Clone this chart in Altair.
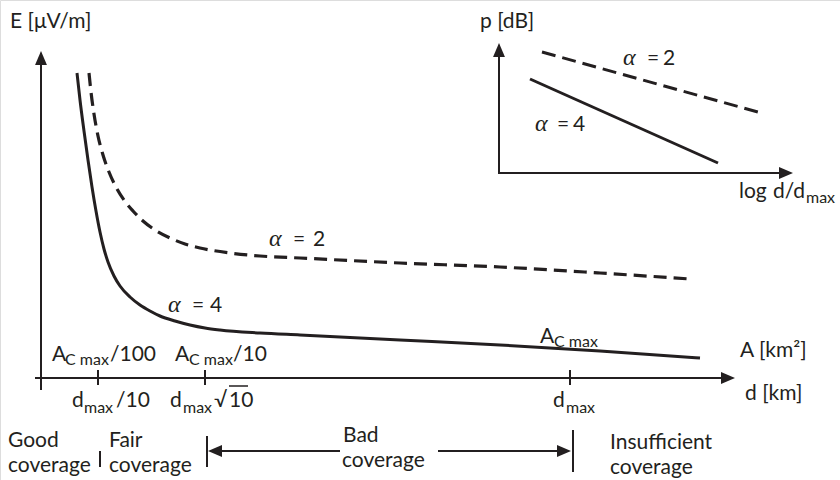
import altair as alt
import pandas as pd

INK = "#231f20"
SANS = "Lato"
SERIF = "Liberation Serif"

# Field strength E versus distance, drawn in page units (x to the right, y downward)
a4_x = [77, 80, 84, 88, 92, 96, 100, 104, 108, 114, 120, 130, 140, 150, 160, 175, 190, 205,
        220, 260, 300, 400, 500, 600, 700]
a4_y = [73, 100, 131, 160, 187, 211, 232, 249, 262, 276, 286, 297, 305, 311, 316, 321, 325, 328,
        330, 333, 335, 340, 345, 351, 358]
a2_x = [89, 91, 94, 98, 103, 109, 116, 124, 133, 143, 155, 170, 185, 200, 230, 260, 300, 400,
        500, 600, 690]
a2_y = [73, 92, 114, 136, 155, 172, 187, 200, 211, 221, 230, 238, 244, 248, 253, 256, 258, 263,
        267, 273, 279]

# Inset: p [dB] against log d/dmax (straight lines)
inset_a2_x = [542, 758]
inset_a2_y = [52, 112]
inset_a4_x = [530, 718]
inset_a4_y = [79, 163]

# Axis lines, ticks, coverage separators and arrow shafts: x, x2, y, y2, width
seg_x = [41, 35, 98, 205, 570, 499, 498, 100, 207, 573, 212, 438, 229]
seg_x2 = [41, 729, 98, 205, 570, 499, 787, 100, 207, 573, 340, 566, 248]
seg_y = [56, 378, 370, 370, 370, 48, 173, 451, 436, 430, 451, 451, 386]
seg_y2 = [390, 378, 385, 385, 385, 174, 173, 467, 467, 472, 451, 451, 386]
seg_w = [2, 2, 2, 2, 2, 2, 2, 2, 2, 2, 2, 2, 1.5]

# Arrow heads
UP = "M0,-1L0.85,1L-0.85,1Z"
RIGHT = "M1,0L-1,0.85L-1,-0.85Z"
LEFT = "M-1,0L1,0.85L1,-0.85Z"
head_x = [41, 728, 499, 786, 215, 564]
head_y = [58, 378, 50, 173, 451, 451]
head_shape = [UP, RIGHT, UP, RIGHT, LEFT, RIGHT]

# Regular labels (baseline positions)
main_text = ["E [μV/m]", "p [dB]", "A", "/100", "A", "/10", "d", "/10", "d", "√", "10",
             "d", "A", "A [km²]", "d [km]", "log", "d/d",
             "Good", "coverage", "Fair", "coverage", "Bad", "coverage",
             "Insufficient", "coverage",
             "=", "2", "=", "4", "=", "2", "=", "4"]
main_x = [10, 480, 52, 110, 175, 233, 72, 116, 170, 214, 229,
          553, 540, 740, 745, 739, 773,
          8, 8, 109, 109, 343, 342,
          610, 610,
          293, 313, 192, 210, 647, 663, 557, 573]
main_y = [28, 28, 361, 361, 361, 361, 407, 407, 407, 407, 407,
          407, 343, 357, 400, 198, 198,
          447, 472, 447, 472, 442, 467,
          449, 474,
          246, 246, 312, 312, 65, 65, 131, 131]

# Subscripts
sub_text = ["C max", "C max", "max", "max", "max", "C max", "max"]
sub_x = [65, 189, 84, 183, 566, 554, 806]
sub_y = [365, 365, 413, 413, 413, 347, 203]

# Path-loss exponent symbols
alpha_x = [269, 168, 623, 535]
alpha_y = [246, 312, 65, 131]

X = alt.Scale(domain=[0, 840], nice=False, zero=False)
Y = alt.Scale(domain=[0, 480], reverse=True, nice=False, zero=False)


def curve(xs, ys, name):
    return pd.DataFrame({"x": xs, "y": ys, "i": range(len(xs)), "series": name})


curves_solid = pd.concat([curve(a4_x, a4_y, "a4"), curve(inset_a4_x, inset_a4_y, "ia4")])
curves_main_dash = curve(a2_x, a2_y, "a2")
curves_inset_dash = curve(inset_a2_x, inset_a2_y, "ia2")


def line_layer(df, width, dash=None):
    kw = dict(color=INK, strokeWidth=width, interpolate="monotone", strokeCap="butt")
    if dash:
        kw["strokeDash"] = dash
    return alt.Chart(df).mark_line(**kw).encode(
        x=alt.X("x:Q", scale=X, axis=None),
        y=alt.Y("y:Q", scale=Y, axis=None),
        detail="series:N",
        order="i:Q",
    )


segs = pd.DataFrame({"x": seg_x, "x2": seg_x2, "y": seg_y, "y2": seg_y2, "w": seg_w})
rules = alt.Chart(segs).mark_rule(color=INK).encode(
    x=alt.X("x:Q", scale=X, axis=None), x2="x2:Q",
    y=alt.Y("y:Q", scale=Y, axis=None), y2="y2:Q",
    strokeWidth=alt.StrokeWidth("w:Q", scale=None),
)

heads = alt.Chart(pd.DataFrame({"x": head_x, "y": head_y, "s": head_shape})).mark_point(
    filled=True, color=INK, opacity=1, size=196, strokeWidth=0
).encode(
    x=alt.X("x:Q", scale=X, axis=None),
    y=alt.Y("y:Q", scale=Y, axis=None),
    shape=alt.Shape("s:N", scale=None),
)


def text_layer(texts, xs, ys, size, font, style="normal"):
    df = pd.DataFrame({"t": texts, "x": xs, "y": ys})
    return alt.Chart(df).mark_text(
        align="left", baseline="alphabetic", font=font, fontSize=size,
        fontStyle=style, color=INK
    ).encode(
        x=alt.X("x:Q", scale=X, axis=None),
        y=alt.Y("y:Q", scale=Y, axis=None),
        text="t:N",
    )


chart = alt.layer(
    rules,
    heads,
    line_layer(curves_solid, 3),
    line_layer(curves_main_dash, 3.2, [13, 7]),
    line_layer(curves_inset_dash, 3, [14, 7]),
    text_layer(main_text, main_x, main_y, 21, SANS),
    text_layer(sub_text, sub_x, sub_y, 16, SANS),
    text_layer(["α"] * 4, alpha_x, alpha_y, 24, SERIF, "italic"),
).properties(
    width=840, height=480,
    autosize=alt.AutoSizeParams(type="none"),
    padding=0,
).configure_view(stroke=None).configure(background="white")

chart.save("out.html", embed_options={"renderer": "svg", "actions": False})
